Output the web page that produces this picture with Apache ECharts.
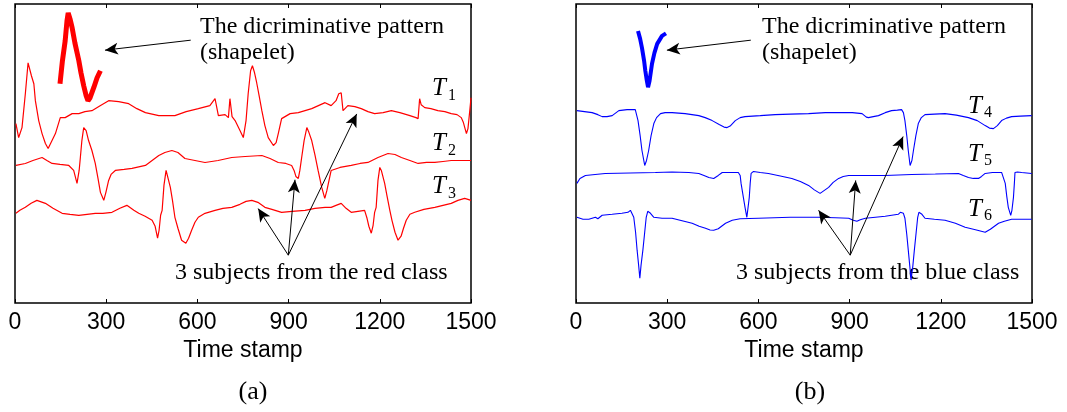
<!DOCTYPE html>
<html>
<head>
<meta charset="UTF-8">
<title>Shapelet example</title>
<script src="https://cdn.jsdelivr.net/npm/echarts@6/dist/echarts.min.js"></script>
<style>
    html, body { margin: 0; padding: 0; background: #fff; }
    #chart { width: 1067px; height: 412px; }
</style>
</head>
<body>
<div id="chart"></div>
<script type="text/javascript">
    // time stamps on the x axis, amplitude (arbitrary units) on the y axis
    var xTicks = [0, 300, 600, 900, 1200, 1500];

    // red class (a)
    var shapeRed = [[148,220],[156,243],[165,263],[171,283],[175,291],[181,285],[188,276],[197,261],[210,243],[217,231],[226,218],[234,208],[240,203],[247,206],[259,216],[270,226],[281,233]];
    var t1 = [[3,180],[12,166],[23,176],[34,210],[43,241],[54,228],[62,220],[67,203],[78,183],[89,170],[100,160],[109,155],[133,170],[149,186],[165,186],[188,190],[210,190],[230,192],[253,193],[280,198],[308,203],[341,202],[374,200],[401,195],[429,191],[473,188],[493,188],[526,188],[563,192],[603,195],[641,198],[658,205],[669,188],[691,189],[702,186],[707,205],[714,187],[724,183],[740,173],[751,166],[760,183],[767,210],[775,233],[781,238],[788,231],[795,221],[803,208],[812,193],[822,178],[833,166],[850,158],[859,161],[866,170],[877,185],[905,190],[932,191],[976,195],[1020,201],[1040,198],[1056,203],[1065,210],[1073,211],[1079,193],[1095,198],[1118,197],[1139,195],[1161,192],[1183,190],[1211,191],[1238,193],[1266,191],[1299,188],[1319,186],[1326,185],[1331,205],[1336,199],[1348,196],[1368,195],[1391,193],[1414,192],[1435,190],[1454,189],[1468,186],[1475,181],[1485,170],[1490,175],[1496,193],[1500,206]];
    var t2 = [[3,138],[34,140],[59,143],[89,146],[105,143],[122,140],[148,139],[177,138],[193,133],[204,120],[211,133],[215,146],[220,163],[226,176],[234,173],[242,163],[253,153],[264,140],[273,125],[281,111],[292,103],[299,111],[308,123],[316,129],[330,133],[359,134],[385,135],[429,138],[451,143],[473,148],[493,151],[516,153],[536,151],[559,145],[592,143],[625,141],[668,143],[713,146],[757,147],[812,148],[839,145],[866,141],[891,140],[910,138],[918,133],[924,127],[932,125],[937,133],[943,146],[951,163],[960,176],[967,171],[976,163],[987,148],[997,133],[1009,116],[1019,105],[1026,113],[1040,133],[1069,136],[1106,138],[1135,140],[1161,141],[1194,146],[1227,150],[1250,149],[1271,146],[1299,143],[1326,140],[1354,141],[1381,141],[1408,142],[1435,143],[1464,143],[1500,143]];
    var t3 = [[3,90],[16,93],[34,96],[53,100],[72,103],[100,100],[125,95],[155,90],[181,89],[210,88],[237,89],[264,90],[289,90],[319,91],[345,95],[368,98],[391,93],[407,90],[428,87],[451,83],[461,77],[469,65],[474,73],[479,88],[484,93],[490,118],[497,133],[503,131],[511,116],[518,103],[526,86],[536,75],[548,63],[562,60],[571,65],[581,73],[592,81],[603,86],[625,90],[658,93],[684,95],[713,96],[740,99],[760,102],[779,103],[799,101],[822,96],[845,94],[877,91],[911,92],[954,93],[987,95],[1020,96],[1040,96],[1056,98],[1073,100],[1089,95],[1106,91],[1128,92],[1150,93],[1158,85],[1164,77],[1172,70],[1178,78],[1183,91],[1188,96],[1194,123],[1200,136],[1205,133],[1216,120],[1224,107],[1233,93],[1240,83],[1250,71],[1260,63],[1270,67],[1278,75],[1287,83],[1299,89],[1315,91],[1345,94],[1381,96],[1408,98],[1435,100],[1457,103],[1479,105],[1490,104],[1500,103]];

    // blue class (b)
    var shapeBlue = [[204,273],[211,265],[217,256],[224,243],[228,233],[233,223],[237,216.5],[242,223],[250,240],[258,251],[267,260],[277,265],[283,268],[296,270.5]];
    var t4 = [[3,193],[53,191],[72,189],[86,187],[102,187],[119,188],[141,193],[168,194],[195,194],[199,193],[204,183],[211,168],[217,153],[226,138],[232,143],[239,153],[247,168],[256,180],[265,186],[278,190],[293,191],[316,191],[359,190],[404,188],[425,186],[448,183],[471,179],[487,176.5],[497,176],[507,177.5],[524,183],[540,186],[556,187],[606,188],[655,189],[705,189.5],[765,190],[820,191],[875,191],[909,191],[941,190],[955,186.5],[962,186],[978,187],[995,188],[1017,191],[1038,193],[1057,193.5],[1071,194],[1077,191],[1082,183],[1088,168],[1093,153],[1099,138],[1105,143],[1110,153],[1118,168],[1126,180],[1136,186],[1148,189],[1179,189.5],[1214,190],[1251,188.5],[1291,186],[1320,183],[1346,178],[1360,175.5],[1373,175],[1386,178],[1400,183],[1416,185.5],[1433,187],[1462,187.5],[1499,188]];
    var t5 = [[3,120],[13,125],[31,128],[63,129],[96,130],[178,130.5],[261,131],[316,131.5],[371,131],[404,130],[421,128],[437,126],[453,125],[468,128],[481,131],[514,131],[534,131],[540,128],[543,120],[550,107],[556,96],[562,86],[566,96],[570,106],[573,120],[576,130],[584,132],[606,131],[633,130],[672,127.5],[710,125],[738,122],[765,118],[784,113.5],[803,110],[817,113],[831,116],[846,121],[864,125],[879,127],[897,128],[952,128],[1017,128],[1104,129],[1182,129.5],[1258,130],[1274,128],[1291,126],[1307,125],[1324,125],[1334,127],[1346,130],[1370,131],[1400,131],[1406,129],[1412,120],[1417,107],[1422,96],[1430,88],[1434,93],[1439,106],[1442,120],[1444,131],[1452,131.5],[1466,131],[1499,130]];
    var t6 = [[3,86],[23,84],[42,84],[53,85],[64,86],[72,84.5],[86,88],[119,89],[151,90],[171,91],[179,93],[184,91],[190,86],[196,71],[201,53],[206,38],[210,25],[214,38],[220,53],[226,71],[231,86],[236,92],[239,94],[245,90],[256,86],[283,85],[316,85],[349,82.5],[382,80],[405,77],[426,75],[441,73.3],[453,73],[468,74.5],[481,77.5],[492,80],[514,83],[540,84.5],[600,85],[705,86],[798,86],[853,85.5],[897,85],[912,83],[924,82],[935,83.5],[952,85],[985,86],[1017,87],[1060,89],[1067,91],[1071,93],[1077,90],[1082,85],[1088,69],[1093,53],[1098,37],[1102,23],[1108,37],[1113,53],[1119,71],[1124,86],[1128,91],[1132,92],[1138,89],[1148,85],[1179,84],[1214,83],[1248,80],[1280,76],[1314,73.5],[1346,71],[1363,74],[1390,80],[1409,82],[1433,84],[1462,84],[1499,84]];

    // arrows: [from, to] in data coordinates
    var arrowsRed = [[[578,263.7],[296,253.7]], [[899,48],[800,94.7]], [[899,48],[921,123.7]], [[899,48],[1124,189.7]]];
    var arrowsBlue = [[[575,263.7],[299,253.7]], [[902,48],[798,93]], [[902,48],[920,123]], [[902,48],[1076,167]]];

    var serif = '"Liberation Serif", "DejaVu Serif", serif';
    var sans = '"Liberation Sans", Arial, sans-serif';

    function arrowLines(list) {
        return {
            silent: true,
            symbol: ['none', 'arrow'],
            symbolSize: [9, 13],
            label: { show: false },
            lineStyle: { color: '#000', width: 1, type: 'solid' },
            emphasis: { disabled: true },
            animation: false,
            data: list.map(function (a) {
                return [{ coord: a[0] }, { coord: a[1] }];
            })
        };
    }

    function bottomAxis(gi) {
        return {
            type: 'value', gridIndex: gi, position: 'bottom',
            min: xTicks[0], max: xTicks[xTicks.length - 1], interval: 300,
            name: 'Time stamp', nameLocation: 'middle', nameGap: 32,
            nameTextStyle: { color: '#000', fontSize: 23, fontFamily: sans },
            axisLine: { show: false },
            axisTick: { inside: true, length: 4, lineStyle: { color: '#000', width: 1 } },
            axisLabel: {
                color: '#000', fontSize: 23, fontFamily: sans, margin: 8,
                showMinLabel: true, showMaxLabel: true,
                formatter: function (v) { return String(v); }
            },
            splitLine: { show: false }
        };
    }
    function topAxis(gi) {
        return {
            type: 'value', gridIndex: gi, position: 'top',
            min: xTicks[0], max: xTicks[xTicks.length - 1], interval: 300,
            axisLine: { show: false },
            axisTick: { inside: true, length: 4, lineStyle: { color: '#000', width: 1 } },
            axisLabel: { show: false },
            splitLine: { show: false }
        };
    }
    function yAx(gi) {
        return { type: 'value', gridIndex: gi, min: 0, max: 300, show: false, splitLine: { show: false } };
    }
    function line(data, xi, yi, color, width, extra) {
        var s = {
            type: 'line', data: data, xAxisIndex: xi, yAxisIndex: yi,
            showSymbol: false, symbol: 'none', silent: true, animation: false,
            lineStyle: { color: color, width: width }
        };
        for (var k in extra) s[k] = extra[k];
        return s;
    }

    function label(x, y, txt, size, style, align) {
        return {
            type: 'text', x: x, y: y, silent: true,
            style: {
                text: txt, fill: '#000', fontSize: size, fontFamily: serif,
                fontStyle: style || 'normal', align: align || 'left', verticalAlign: 'middle'
            }
        };
    }

    var myChart = echarts.init(document.getElementById('chart'));

    var option = {
        animation: false,
        backgroundColor: '#fff',
        grid: [
            { left: 15, right: 596, top: 4, bottom: 109, show: true, borderColor: '#000', borderWidth: 1.5, backgroundColor: 'transparent' },
            { left: 576, right: 35, top: 4, bottom: 109, show: true, borderColor: '#000', borderWidth: 1.5, backgroundColor: 'transparent' }
        ],
        xAxis: [bottomAxis(0), topAxis(0), bottomAxis(1), topAxis(1)],
        yAxis: [yAx(0), yAx(1)],
        series: [
            line(t1, 0, 0, '#ff0000', 1.2, { markLine: arrowLines(arrowsRed) }),
            line(t2, 0, 0, '#ff0000', 1.2),
            line(t3, 0, 0, '#ff0000', 1.2),
            line(shapeRed, 0, 0, '#ff0000', 5),
            line(t4, 2, 1, '#0000ff', 1.1, { markLine: arrowLines(arrowsBlue) }),
            line(t5, 2, 1, '#0000ff', 1.1),
            line(t6, 2, 1, '#0000ff', 1.1),
            line(shapeBlue, 2, 1, '#0000ff', 4)
        ],
        graphic: [
            label(200, 27, 'The dicriminative pattern', 24),
            label(200, 53, '(shapelet)', 24),
            label(175, 273, '3 subjects from the red class', 24),
            label(432, 88, 'T', 25, 'italic'), label(448, 96, '1', 16),
            label(432, 143, 'T', 25, 'italic'), label(448, 151, '2', 16),
            label(432, 186, 'T', 25, 'italic'), label(448, 194, '3', 16),
            label(253, 392, '(a)', 26, 'normal', 'center'),

            label(762, 27, 'The dicriminative pattern', 24),
            label(762, 53, '(shapelet)', 24),
            label(736, 273, '3 subjects from the blue class', 24),
            label(968, 106, 'T', 25, 'italic'), label(984, 113, '4', 16),
            label(968, 154, 'T', 25, 'italic'), label(984, 161, '5', 16),
            label(968, 209, 'T', 25, 'italic'), label(984, 216, '6', 16),
            label(810, 392, '(b)', 26, 'normal', 'center')
        ]
    };
    myChart.setOption(option);
</script>
</body>
</html>
